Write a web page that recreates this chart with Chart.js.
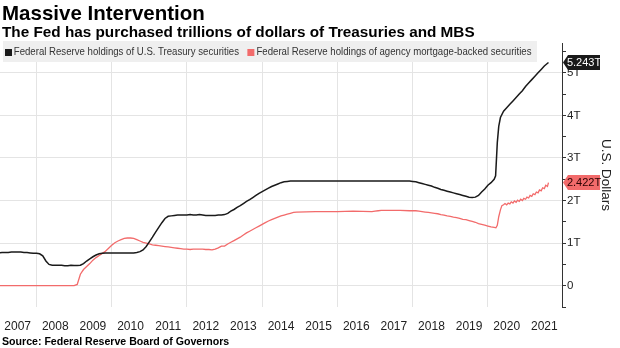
<!DOCTYPE html>
<html>
<head>
<meta charset="utf-8">
<script src="https://cdn.jsdelivr.net/npm/chart.js@4"></script>
<style>
  html, body { margin: 0; padding: 0; background: #fff; }
  #wrap { position: relative; width: 620px; height: 348px; overflow: hidden; font-family: 'Liberation Sans', Arial, sans-serif; color: #000; }
  #chart { position: absolute; left: 0; top: 0; }
  .title { position: absolute; left: 2px; top: 1px; font-size: 20.5px; font-weight: bold; line-height: 23px; white-space: nowrap; }
  .subtitle { position: absolute; left: 2px; top: 23px; font-size: 15.3px; font-weight: bold; line-height: 18px; white-space: nowrap; }
  .legend { position: absolute; left: 3px; top: 41px; width: 534px; height: 21px; background: #efefef; }
  .legend .inner { position: absolute; left: 2px; top: 0; font-size: 11px; color: #333; line-height: 21px; white-space: nowrap; transform: scaleX(0.875); transform-origin: left center; }
  .legend .sw { display: inline-block; width: 8px; height: 7px; margin: 0 2px 0 0; vertical-align: -0.5px; }
  .legend .gap { display: inline-block; width: 10px; }
  .source { position: absolute; left: 2px; top: 335px; font-size: 10.6px; font-weight: bold; line-height: 12px; white-space: nowrap; }
</style>
</head>
<body>
<div id="wrap">
  <canvas id="chart" width="620" height="348"></canvas>
  <div class="title">Massive Intervention</div>
  <div class="subtitle">The Fed has purchased trillions of dollars of Treasuries and MBS</div>
  <div class="legend"><div class="inner" id="legend"></div></div>
  <div class="source">Source: Federal Reserve Board of Governors</div>
</div>
<script>
// series labels
const seriesNames = [
  'Federal Reserve holdings of U.S. Treasury securities',
  'Federal Reserve holdings of agency mortgage-backed securities'
];

// Treasury holdings, trillions of dollars
const treasuryDates = [
  '2007-01-01','2007-02-01','2007-03-01','2007-04-01','2007-05-01','2007-06-01','2007-07-01','2007-08-01','2007-09-01','2007-10-01','2007-11-01','2007-12-01',
  '2008-01-01','2008-02-01','2008-03-01','2008-04-01','2008-05-01','2008-06-01','2008-07-01','2008-08-01','2008-09-01','2008-10-01','2008-11-01','2008-12-01',
  '2009-01-01','2009-02-01','2009-03-01','2009-04-01','2009-05-01','2009-06-01','2009-07-01','2009-08-01','2009-09-01','2009-10-01','2009-11-01','2009-12-01',
  '2010-01-01','2010-02-01','2010-03-01','2010-04-01','2010-05-01','2010-06-01','2010-07-01','2010-08-01','2010-09-01','2010-10-01','2010-11-01','2010-12-01',
  '2011-01-01','2011-02-01','2011-03-01','2011-04-01','2011-05-01','2011-06-01','2011-07-01','2011-08-01','2011-09-01','2011-10-01','2011-11-01','2011-12-01',
  '2012-01-01','2012-02-01','2012-03-01','2012-04-01','2012-05-01','2012-06-01','2012-07-01','2012-08-01','2012-09-01','2012-10-01','2012-11-01','2012-12-01',
  '2013-01-01','2013-02-01','2013-03-01','2013-04-01','2013-05-01','2013-06-01','2013-07-01','2013-08-01','2013-09-01','2013-10-01','2013-11-01','2013-12-01',
  '2014-01-01','2014-02-01','2014-03-01','2014-04-01','2014-05-01','2014-06-01','2014-07-01','2014-08-01','2014-09-01','2014-10-01','2014-11-01','2014-12-01',
  '2015-06-01','2016-01-01','2016-06-01','2017-01-01','2017-06-01','2017-10-01','2017-12-01',
  '2018-01-01','2018-02-01','2018-03-01','2018-04-01','2018-05-01','2018-06-01','2018-07-01','2018-08-01','2018-09-01','2018-10-01','2018-11-01','2018-12-01',
  '2019-01-01','2019-02-01','2019-03-01','2019-04-01','2019-05-01','2019-06-01','2019-07-01','2019-08-01','2019-09-01','2019-10-01','2019-11-01','2019-12-01',
  '2020-01-01','2020-02-01','2020-03-01','2020-03-15','2020-04-01','2020-04-15','2020-05-01','2020-06-01','2020-07-01','2020-08-01','2020-09-01','2020-10-01','2020-11-01','2020-12-01',
  '2021-01-01','2021-02-01','2021-03-01','2021-04-01','2021-05-01','2021-06-01','2021-07-01','2021-08-11'
];
const treasuryValues = [
  0.77,0.78,0.78,0.78,0.79,0.79,0.79,0.79,0.78,0.78,0.77,0.76,
  0.76,0.75,0.70,0.58,0.50,0.48,0.48,0.48,0.48,0.47,0.47,0.48,
  0.475,0.475,0.48,0.52,0.58,0.63,0.68,0.72,0.75,0.76,0.77,0.77,
  0.77,0.77,0.77,0.77,0.77,0.77,0.77,0.77,0.78,0.80,0.84,0.92,
  1.03,1.14,1.26,1.37,1.48,1.58,1.63,1.64,1.65,1.66,1.66,1.66,
  1.66,1.67,1.66,1.66,1.67,1.66,1.65,1.65,1.65,1.65,1.66,1.66,
  1.67,1.70,1.75,1.79,1.84,1.88,1.93,1.98,2.02,2.07,2.12,2.17,
  2.21,2.25,2.29,2.33,2.36,2.39,2.42,2.44,2.45,2.46,2.46,2.46,
  2.46,2.46,2.46,2.46,2.46,2.46,2.46,
  2.45,2.44,2.42,2.40,2.38,2.36,2.34,2.31,2.29,2.26,2.24,2.22,
  2.20,2.18,2.16,2.14,2.12,2.10,2.08,2.07,2.08,2.12,2.20,2.27,
  2.36,2.42,2.50,2.58,3.36,3.74,3.95,4.10,4.18,4.26,4.34,4.42,4.50,4.58,
  4.68,4.76,4.84,4.92,5.00,5.08,5.16,5.243
];

// Agency MBS holdings, trillions of dollars
const mbsDates = [
  '2007-01-01','2008-12-01','2009-01-01','2009-02-01','2009-03-01','2009-04-01','2009-05-01','2009-06-01','2009-07-01','2009-08-01','2009-09-01','2009-10-01','2009-11-01','2009-12-01',
  '2010-01-01','2010-02-01','2010-03-01','2010-04-01','2010-05-01','2010-06-01','2010-07-01','2010-08-01','2010-09-01','2010-10-01','2010-11-01','2010-12-01',
  '2011-01-01','2011-02-01','2011-03-01','2011-04-01','2011-05-01','2011-06-01','2011-07-01','2011-08-01','2011-09-01','2011-10-01','2011-11-01','2011-12-01',
  '2012-01-01','2012-02-01','2012-03-01','2012-04-01','2012-05-01','2012-06-01','2012-07-01','2012-08-01','2012-09-01','2012-10-01','2012-11-01','2012-12-01',
  '2013-01-01','2013-02-01','2013-03-01','2013-04-01','2013-05-01','2013-06-01','2013-07-01','2013-08-01','2013-09-01','2013-10-01','2013-11-01','2013-12-01',
  '2014-01-01','2014-02-01','2014-03-01','2014-04-01','2014-05-01','2014-06-01','2014-07-01','2014-08-01','2014-09-01','2014-10-01','2014-11-01','2014-12-01',
  '2015-06-01','2016-01-01','2016-06-01','2016-12-01',
  '2017-01-01','2017-02-01','2017-03-01','2017-06-01','2017-09-01','2017-12-01',
  '2018-01-01','2018-02-01','2018-03-01','2018-04-01','2018-05-01','2018-06-01','2018-07-01','2018-08-01','2018-09-01','2018-10-01','2018-11-01','2018-12-01',
  '2019-01-01','2019-02-01','2019-03-01','2019-04-01','2019-05-01','2019-06-01','2019-07-01','2019-08-01','2019-09-01','2019-10-01','2019-11-01','2019-12-01',
  '2020-01-01','2020-02-01','2020-03-01','2020-03-18','2020-04-01','2020-04-15','2020-05-01','2020-05-15','2020-06-01','2020-06-15',
  '2020-07-01','2020-07-15','2020-08-01','2020-08-15','2020-09-01','2020-09-15','2020-10-01','2020-10-15','2020-11-01','2020-11-15','2020-12-01','2020-12-15',
  '2021-01-01','2021-01-15','2021-02-01','2021-02-15','2021-03-01','2021-03-15','2021-04-01','2021-04-15','2021-05-01','2021-05-15','2021-06-01','2021-06-15',
  '2021-07-01','2021-07-15','2021-08-01','2021-08-11'
];
const mbsValues = [
  0,0,0,0.03,0.27,0.38,0.45,0.52,0.60,0.66,0.71,0.76,0.81,0.88,
  0.95,1.01,1.05,1.08,1.11,1.12,1.12,1.11,1.08,1.05,1.02,1.00,
  0.98,0.96,0.95,0.94,0.93,0.92,0.91,0.90,0.89,0.88,0.87,0.86,
  0.86,0.85,0.86,0.86,0.86,0.86,0.85,0.85,0.84,0.86,0.89,0.93,
  0.93,0.98,1.02,1.06,1.10,1.14,1.19,1.24,1.28,1.32,1.36,1.40,
  1.44,1.48,1.52,1.55,1.58,1.61,1.64,1.66,1.68,1.70,1.72,1.73,
  1.74,1.74,1.75,1.74,
  1.75,1.76,1.77,1.77,1.77,1.76,
  1.76,1.76,1.75,1.74,1.73,1.72,1.71,1.70,1.69,1.67,1.66,1.64,
  1.63,1.61,1.60,1.58,1.56,1.55,1.53,1.51,1.49,1.46,1.44,1.42,
  1.40,1.38,1.37,1.36,1.42,1.62,1.78,1.88,1.90,1.93,
  1.90,1.94,1.92,1.97,1.94,1.99,1.96,2.01,1.98,2.03,2.00,2.05,
  2.03,2.08,2.06,2.12,2.10,2.16,2.14,2.20,2.18,2.25,2.23,2.30,
  2.28,2.36,2.33,2.422
];

// axis ticks
const yearLabels = ['2007','2008','2009','2010','2011','2012','2013','2014','2015','2016','2017','2018','2019','2020','2021'];
const yTickValues = [-0.5,0,0.5,1,1.5,2,2.5,3,3.5,4,4.5,5,5.5];
const yTickLabels = ['','0','','1T','','2T','','3T','','4T','','5T',''];

const seriesColors = ['#1a1a1a', '#f26b6b'];
const tagText = ['#ffffff', '#2a0000'];

function toYear(s) {
  const [y, m, d] = s.split('-').map(Number);
  return y + (m - 1) / 12 + (d - 1) / 365;
}

function points(dates, values) {
  return dates.map((d, i) => ({ x: toYear(d), y: values[i] }));
}

// legend (html, grey strip like the original)
const legend = document.getElementById('legend');
legend.innerHTML = seriesNames.map((n, i) =>
  `<span class="sw" style="background:${seriesColors[i]}"></span>${n}`
).join('<span class="gap"></span>');

// last-value tags on the right axis
const tagPlugin = {
  id: 'lastTags',
  afterDraw(chart) {
    const { ctx, chartArea } = chart;
    ctx.save();
    ctx.font = '11px "Liberation Sans", Arial, sans-serif';
    ctx.textAlign = 'center';
    ctx.textBaseline = 'middle';
    chart.data.datasets.forEach((ds, i) => {
      const meta = chart.getDatasetMeta(i);
      const pt = meta.data[meta.data.length - 1];
      const v = ds.data[ds.data.length - 1].y;
      const y = pt.y;
      const x0 = chartArea.right + 1;
      const h = 15;
      const w = 37;
      ctx.fillStyle = seriesColors[i];
      ctx.beginPath();
      ctx.moveTo(x0, y);
      ctx.lineTo(x0 + 5, y - h / 2);
      ctx.lineTo(x0 + w, y - h / 2);
      ctx.lineTo(x0 + w, y + h / 2);
      ctx.lineTo(x0 + 5, y + h / 2);
      ctx.closePath();
      ctx.fill();
      ctx.fillStyle = tagText[i];
      ctx.fillText(v.toFixed(3) + 'T', x0 + 5 + (w - 5) / 2, y + 0.5);
    });
    ctx.restore();
  }
};

const GRID = '#e4e4e4';
const AXIS = '#333333';

new Chart(document.getElementById('chart'), {
  type: 'line',
  plugins: [tagPlugin],
  data: {
    datasets: [
      {
        label: seriesNames[0],
        data: points(treasuryDates, treasuryValues),
        borderColor: seriesColors[0],
        borderWidth: 1.5,
        pointRadius: 0,
        tension: 0
      },
      {
        label: seriesNames[1],
        data: points(mbsDates, mbsValues),
        borderColor: seriesColors[1],
        borderWidth: 1.3,
        pointRadius: 0,
        tension: 0
      }
    ]
  },
  options: {
    responsive: false,
    devicePixelRatio: 1,
    animation: false,
    layout: { padding: { left: 0, right: 0, top: 43, bottom: 13 } },
    plugins: { legend: { display: false }, tooltip: { enabled: false } },
    scales: {
      x: {
        type: 'linear',
        min: 2007.03,
        max: 2021.97,
        afterBuildTicks: (scale) => {
          const t = [];
          yearLabels.forEach(y => {
            t.push({ value: Number(y) });
            t.push({ value: Number(y) + 0.5 });
          });
          scale.ticks = t.filter(k => k.value >= scale.min && k.value <= scale.max);
        },
        afterFit: (scale) => { scale.height = 28; },
        border: { display: false },
        grid: {
          drawTicks: true,
          tickLength: 12,
          tickColor: 'rgba(0,0,0,0)',
          color: (c) => {
            const v = c.tick && c.tick.value;
            return (Number.isInteger(v) && v % 2 === 0) ? GRID : 'rgba(0,0,0,0)';
          },
          lineWidth: 1
        },
        ticks: {
          autoSkip: false,
          maxRotation: 0,
          padding: 0,
          color: '#222',
          font: { family: '"Liberation Sans", Arial, sans-serif', size: 12 },
          callback: (v) => {
            const i = yearLabels.indexOf(String(v - 0.5));
            return i >= 0 ? yearLabels[i] : '';
          }
        }
      },
      y: {
        type: 'linear',
        position: 'right',
        min: -0.5,
        max: 5.7,
        afterBuildTicks: (scale) => {
          scale.ticks = yTickValues.map(v => ({ value: v }));
        },
        afterFit: (scale) => { scale.width = 58; },
        border: { display: true, color: AXIS, width: 1 },
        grid: {
          color: (c) => {
            const v = c.tick && c.tick.value;
            return (Number.isInteger(v) && v >= 0) ? GRID : 'rgba(0,0,0,0)';
          },
          tickColor: AXIS,
          tickLength: 4,
          lineWidth: 1
        },
        ticks: {
          autoSkip: false,
          padding: 1,
          color: '#222',
          font: { family: '"Liberation Sans", Arial, sans-serif', size: 11.5 },
          callback: (v) => {
            const i = yTickValues.indexOf(v);
            return i >= 0 ? yTickLabels[i] : '';
          }
        },
        title: {
          display: true,
          text: 'U.S. Dollars',
          color: '#222',
          font: { family: '"Liberation Sans", Arial, sans-serif', size: 13.5 },
          padding: { top: 6, bottom: 0 }
        }
      }
    }
  }
});
</script>
</body>
</html>
